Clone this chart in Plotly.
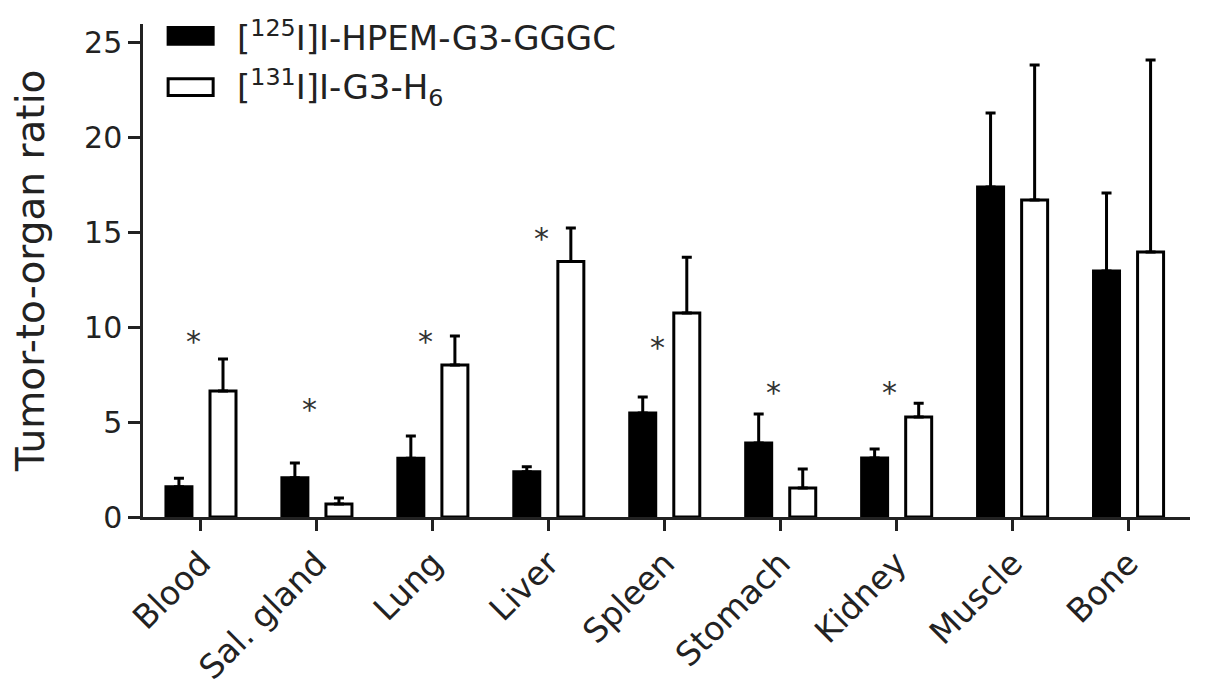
import plotly.graph_objects as go

categories = ["Blood", "Sal. gland", "Lung", "Liver", "Spleen", "Stomach", "Kidney", "Muscle", "Bone"]
hpem_mean = [1.6, 2.07, 3.1, 2.39, 5.48, 3.9, 3.11, 17.4, 12.97]
hpem_upper = [2.05, 2.85, 4.27, 2.65, 6.33, 5.43, 3.59, 21.3, 17.09]
h6_mean = [6.65, 0.69, 8.02, 13.47, 10.76, 1.53, 5.27, 16.72, 13.98]
h6_upper = [8.33, 1.0, 9.55, 15.24, 13.7, 2.53, 6.0, 23.84, 24.1]
star_categories = ["Blood", "Sal. gland", "Lung", "Liver", "Spleen", "Stomach", "Kidney"]
star_y = [9.55, 6.0, 9.55, 15.0, 9.23, 6.86, 6.86]
y_ticks = [0, 5, 10, 15, 20, 25]

FONT = "DejaVu Sans, Liberation Sans, sans-serif"
INK = "#222"

fig = go.Figure()
fig.add_trace(go.Bar(
    x=categories, y=hpem_mean, name="[125I]I-HPEM-G3-GGGC",
    marker=dict(color="black", line=dict(color="black", width=3)),
    error_y=dict(type="data", symmetric=False,
                 array=[u - m for u, m in zip(hpem_upper, hpem_mean)],
                 arrayminus=[0] * len(hpem_mean),
                 color="black", thickness=3, width=5),
))
fig.add_trace(go.Bar(
    x=categories, y=h6_mean, name="[131I]I-G3-H6",
    marker=dict(color="white", line=dict(color="black", width=3)),
    error_y=dict(type="data", symmetric=False,
                 array=[u - m for u, m in zip(h6_upper, h6_mean)],
                 arrayminus=[0] * len(h6_mean),
                 color="black", thickness=3, width=5),
))

for c, y in zip(star_categories, star_y):
    fig.add_annotation(x=c, y=y, xref="x", yref="y", text="*", showarrow=False,
                       xshift=-7, yshift=-6, font=dict(size=30, color="#333", family=FONT))

# manual legend
legend_items = [
    ("black", "[<sup>125</sup>I]I-HPEM-G3-GGGC", 0.976),
    ("white", "[<sup>131</sup>I]I-G3-H<sub>6</sub>", 0.872),
]
for fill, label, yc in legend_items:
    fig.add_shape(type="rect", xref="paper", yref="paper",
                  x0=0.024, x1=0.067, y0=yc - 0.017, y1=yc + 0.017,
                  fillcolor=fill, line=dict(color="black", width=3))
    fig.add_annotation(xref="paper", yref="paper", x=0.088, y=yc, text=label,
                       showarrow=False, xanchor="left", yanchor="middle",
                       font=dict(size=34, color=INK, family=FONT))

fig.update_layout(
    width=1197, height=691,
    margin=dict(l=135, r=15, t=16, b=182),
    paper_bgcolor="white", plot_bgcolor="white",
    barmode="group", bargap=0.24, bargroupgap=0.41,
    showlegend=False,
    font=dict(family=FONT, size=30, color=INK),
)
fig.update_xaxes(
    range=[-0.5, 8.53], showline=True, linecolor=INK, linewidth=2.5,
    ticks="outside", ticklen=11, tickwidth=2.5, tickcolor=INK,
    tickangle=-45, tickfont=dict(size=33, family=FONT, color=INK),
    showgrid=False, zeroline=False, automargin=False,
)
fig.update_yaxes(
    range=[0, 26], showline=True, linecolor=INK, linewidth=2.5,
    ticks="outside", ticklen=12, tickwidth=2.5, tickcolor=INK,
    tickvals=y_ticks, tickfont=dict(size=30, family=FONT, color=INK),
    title=dict(text="Tumor-to-organ ratio", font=dict(size=39, family=FONT, color=INK), standoff=30),
    showgrid=False, zeroline=False, automargin=False,
)

fig.write_html("out.html")
